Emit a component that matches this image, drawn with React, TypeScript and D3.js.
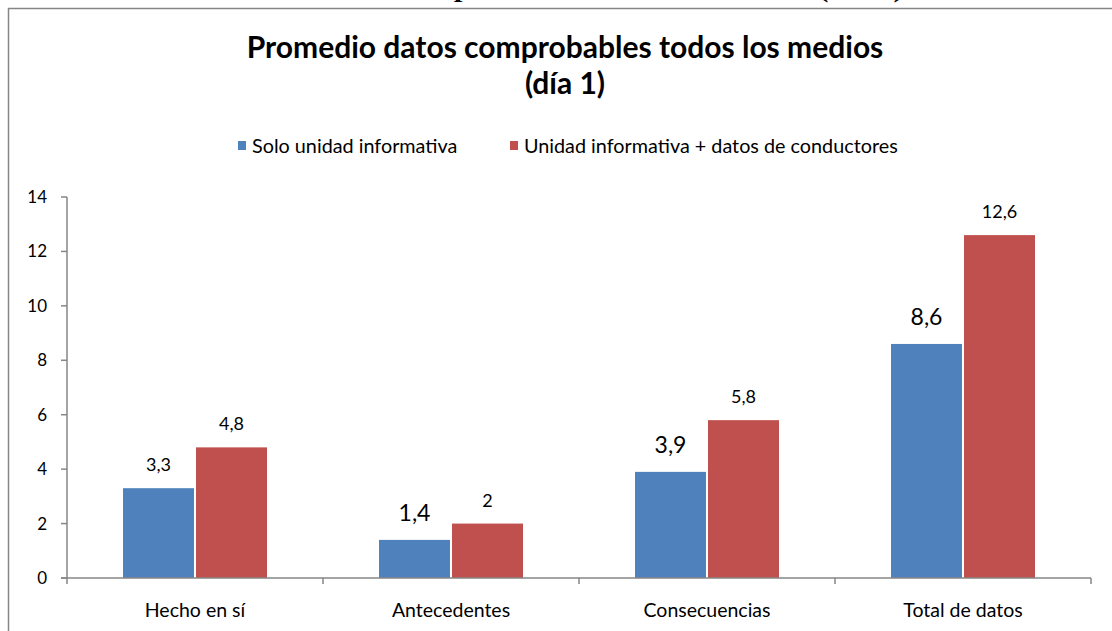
import React from "react";
import * as d3 from "d3";

const categories = ["Hecho en sí", "Antecedentes", "Consecuencias", "Total de datos"];
const seriesNames = ["Solo unidad informativa", "Unidad informativa + datos de conductores"];
const soloValues = [3.3, 1.4, 3.9, 8.6];
const conductoresValues = [4.8, 2, 5.8, 12.6];
const yTicks = [0, 2, 4, 6, 8, 10, 12, 14];
const titleLines = ["Promedio datos comprobables todos los medios", "(día 1)"];
const captionText = "Gráfico 1.1: Promedio datos comprobables todos los medios (día 1)";

const colors = ["#4F81BD", "#C0504D"];
const largeLabels = new Set(["0-1", "0-2", "0-3"]);
const FONT = "Lato, 'Open Sans', sans-serif";

export default function App() {
  const W = 1112, H = 631;
  const left = 67, right = 1091, top = 197, bottom = 578;
  const x = d3.scaleBand<string>().domain(categories).range([left, right]).paddingInner(0).paddingOuter(0);
  const y = d3.scaleLinear().domain([0, 14]).range([bottom, top]);
  const barW = 71;
  const series = [soloValues, conductoresValues];
  const fmt = (v: number) => String(v).replace(".", ",");
  const boundaries = [...categories.map((c) => x(c)!), right];

  return (
    <svg width={W} height={H} style={{ position: "absolute", left: 0, top: 0, background: "#fff" }} fontFamily={FONT}>
      <rect x={0} y={0} width={W} height={H} fill="#fff" />
      <text x={14} y={-3} fontFamily="'Liberation Serif', 'Times New Roman', serif" fontWeight="bold" fontSize={25} textLength={890} lengthAdjust="spacingAndGlyphs" fill="#000">
        {captionText}
      </text>
      <rect x={8.5} y={8.5} width={W + 20} height={H + 20} fill="#fff" stroke="#868686" strokeWidth={1.5} />

      {titleLines.map((t, i) => (
        <text key={t} x={565} y={58 + i * 36} textAnchor="middle" fontWeight="bold" fontSize={30} fill="#000">
          {t}
        </text>
      ))}

      {seriesNames.map((n, i) => {
        const lx = [238, 510][i];
        return (
          <g key={n}>
            <rect x={lx} y={141} width={8} height={9} fill={colors[i]} />
            <text x={lx + 14} y={153} fontSize={19.8} fill="#000">{n}</text>
          </g>
        );
      })}

      {series.map((vals, si) =>
        vals.map((v, ci) => {
          const c = x(categories[ci])! + x.bandwidth() / 2;
          const bx = si === 0 ? c - 1 - barW : c + 1;
          const big = largeLabels.has(`${si}-${ci}`);
          return (
            <g key={`${si}-${ci}`}>
              <rect x={bx} y={y(v)} width={barW} height={bottom - y(v)} fill={colors[si]} />
              <text x={bx + barW / 2} y={y(v) - (big ? 19 : 17)} textAnchor="middle" fontSize={big ? 23 : 18} fill="#000">
                {fmt(v)}
              </text>
            </g>
          );
        })
      )}

      <line x1={left} x2={left} y1={top} y2={bottom} stroke="#868686" strokeWidth={1.5} />
      {yTicks.map((t) => (
        <g key={t}>
          <line x1={left - 6} x2={left} y1={y(t)} y2={y(t)} stroke="#868686" strokeWidth={1.5} />
          <text x={47} y={y(t)} dy="0.35em" textAnchor="end" fontSize={17} fill="#000">{t}</text>
        </g>
      ))}
      <line x1={left - 6} x2={right} y1={bottom} y2={bottom} stroke="#868686" strokeWidth={1.5} />
      {boundaries.map((b, i) => (
        <line key={i} x1={b} x2={b} y1={bottom} y2={bottom + 6} stroke="#868686" strokeWidth={1.5} />
      ))}
      {categories.map((c) => (
        <text key={c} x={x(c)! + x.bandwidth() / 2} y={617} textAnchor="middle" fontSize={19.5} fill="#000">{c}</text>
      ))}
    </svg>
  );
}
